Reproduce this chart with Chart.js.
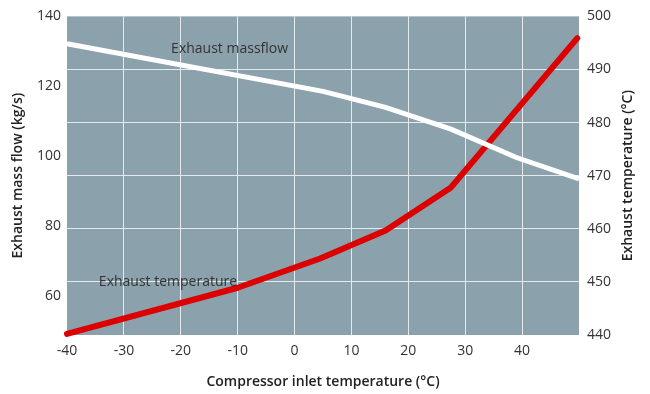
<!DOCTYPE html>
<html>
<head>
<meta charset="utf-8">
<script src="https://cdn.jsdelivr.net/npm/chart.js@4.4.1/dist/chart.umd.min.js"></script>
<style>
  html, body { margin: 0; padding: 0; background: #fff; }
  #wrap { width: 650px; height: 394px; }
</style>
</head>
<body>
<div id="wrap"><canvas id="chartctx"></canvas></div>
<script>
// compressor inlet temperature (°C) -> exhaust mass flow (kg/s)
const massflowTemps = [-40, 5, 16, 27.5, 39, 50]
const massflowValues = [132.2, 118.6, 114.0, 107.8, 99.7, 93.6]

// compressor inlet temperature (°C) -> exhaust temperature (°C)
const exhaustTemps = [-40, -10, 4.5, 16, 27.5, 49.7]
const exhaustValues = [440.2, 448.9, 454.4, 459.7, 467.8, 495.9]

const xTicks = [-40, -30, -20, -10, 0, 10, 20, 30, 40]
const leftTicks = [60, 80, 100, 120, 140]
const rightTicks = [440, 450, 460, 470, 480, 490, 500]

const plotBg = '#8ba1ac'
const gridColor = '#e4eaed'
const textColor = '#333'
const fontFamily = '"Open Sans", "DejaVu Sans", sans-serif'
const fontSize = 14

const toPoints = (xs, ys) => xs.map((x, i) => ({ x, y: ys[i] }))

const chartDecor = {
  id: 'chartDecor',
  beforeDraw: (chart) => {
    const { ctx, chartArea: a } = chart
    ctx.save()
    ctx.fillStyle = plotBg
    ctx.fillRect(a.left, a.top, a.right - a.left, a.bottom - a.top)
    ctx.restore()
  },
  afterDatasetsDraw: (chart) => {
    const { ctx, scales } = chart
    ctx.save()
    ctx.fillStyle = textColor
    ctx.font = `${fontSize}px ${fontFamily}`
    ctx.textAlign = 'left'
    ctx.textBaseline = 'middle'
    ctx.fillText('Exhaust massflow', scales.x.getPixelForValue(-21.7), scales.yMass.getPixelForValue(130.7))
    ctx.fillText('Exhaust temperature', scales.x.getPixelForValue(-34.4), scales.yTemp.getPixelForValue(449.9))

    // right title reads bottom to top
    const a = chart.chartArea
    ctx.translate(628, (a.top + a.bottom) / 2)
    ctx.rotate(-Math.PI / 2)
    ctx.textAlign = 'center'
    ctx.fillStyle = '#222'
    ctx.font = `600 ${fontSize}px ${fontFamily}`
    ctx.fillText('Exhaust temperature (°C)', 0, 0)
    ctx.restore()
  }
}

const edgeGrid = (edges) => (c) => (c.tick && edges.includes(c.tick.value)) ? 'transparent' : gridColor

new Chart(document.getElementById('chartctx'), {
  type: 'line',
  data: {
    datasets: [{
      label: 'Exhaust massflow',
      data: toPoints(massflowTemps, massflowValues),
      yAxisID: 'yMass',
      borderColor: '#ffffff',
      borderWidth: 5,
      pointRadius: 0,
      tension: 0,
      clip: false,
    }, {
      label: 'Exhaust temperature',
      data: toPoints(exhaustTemps, exhaustValues),
      yAxisID: 'yTemp',
      borderColor: '#dc0000',
      borderWidth: 6,
      borderCapStyle: 'round',
      borderJoinStyle: 'round',
      pointRadius: 0,
      tension: 0,
      clip: false,
    }]
  },
  options: {
    responsive: true,
    maintainAspectRatio: false,
    animation: false,
    layout: { padding: { top: 15, left: 0, right: 0, bottom: 0 } },
    plugins: {
      legend: { display: false },
      tooltip: { enabled: false },
    },
    scales: {
      x: {
        type: 'linear',
        min: -40,
        max: 50,
        afterBuildTicks: (s) => { s.ticks = [...xTicks, 50].map(v => ({ value: v })) },
        afterFit: (s) => { s.height = 59 },
        ticks: {
          padding: 8,
          color: textColor,
          font: { family: fontFamily, size: fontSize },
          callback: (v) => xTicks.includes(v) ? String(v) : '',
          maxRotation: 0,
          autoSkip: false,
        },
        grid: { color: edgeGrid([-40, 50]), lineWidth: 1, drawTicks: false },
        border: { display: false },
        title: {
          display: true,
          text: 'Compressor inlet temperature (°C)',
          color: '#222',
          font: { family: fontFamily, size: fontSize, weight: '600' },
          padding: { top: 0, bottom: 4 },
        },
      },
      yMass: {
        type: 'linear',
        position: 'left',
        min: 49,
        max: 140,
        afterBuildTicks: (s) => { s.ticks = leftTicks.map(v => ({ value: v })) },
        afterFit: (s) => { s.width = 67 },
        ticks: {
          padding: 6,
          color: textColor,
          font: { family: fontFamily, size: fontSize },
        },
        grid: { display: false, drawTicks: false },
        border: { display: false },
        title: {
          display: true,
          text: 'Exhaust mass flow (kg/s)',
          color: '#222',
          font: { family: fontFamily, size: fontSize, weight: '600' },
          padding: { top: 10, bottom: 0 },
        },
      },
      yTemp: {
        type: 'linear',
        position: 'right',
        min: 440,
        max: 500,
        afterBuildTicks: (s) => { s.ticks = rightTicks.map(v => ({ value: v })) },
        afterFit: (s) => { s.width = 71 },
        ticks: {
          padding: 8,
          color: textColor,
          font: { family: fontFamily, size: fontSize },
        },
        grid: { color: edgeGrid([440, 500]), lineWidth: 1, drawTicks: false },
        border: { display: false },
      },
    },
  },
  plugins: [chartDecor],
})
</script>
</body>
</html>
